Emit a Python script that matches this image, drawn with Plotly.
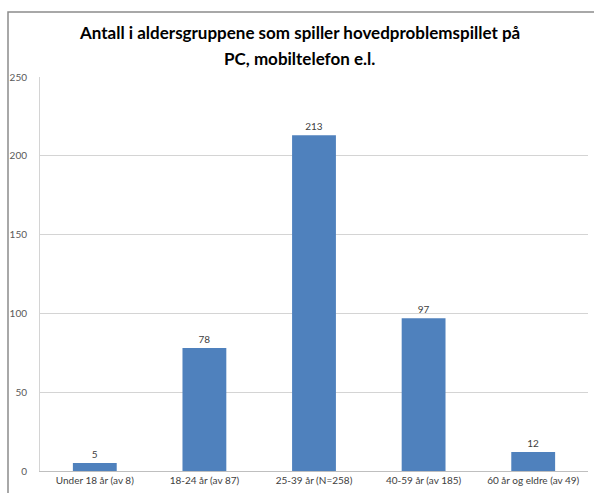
import plotly.graph_objects as go

categories = ["Under 18 år (av 8)", "18-24 år (av 87)", "25-39 år (N=258)",
              "40-59 år (av 185)", "60 år og eldre (av 49)"]
values = [5, 78, 213, 97, 12]
y_ticks = [0, 50, 100, 150, 200, 250]
title_lines = ["Antall i aldersgruppene som spiller hovedproblemspillet på",
               "PC, mobiltelefon e.l."]

W, H = 594, 493
L, R, T, B = 40, 6, 77, 22
ph = H - T - B
pw = W - L - R

def py(px):
    return 1 + (T - px) / ph

def pxx(px):
    return (px - L) / pw

fig = go.Figure(go.Bar(
    x=categories, y=values,
    marker=dict(color="#4F81BD", line=dict(color="#4F81BD", width=0)),
    text=[str(v) for v in values], textposition="outside",
    textfont=dict(family="Lato", size=10, color="#404040"),
    cliponaxis=False,
))

fig.update_layout(
    width=W, height=H,
    margin=dict(l=L, r=R, t=T, b=B, autoexpand=False),
    paper_bgcolor="white", plot_bgcolor="white",
    bargap=0.6,
    showlegend=False,
    font=dict(family="Lato"),
)
for line, ypx in zip(title_lines, [32, 59]):
    fig.add_annotation(text="<b>" + line + "</b>", xref="paper", yref="paper",
                       x=pxx(299), y=py(ypx), xanchor="center", yanchor="middle",
                       showarrow=False, font=dict(family="Lato", size=17, color="black"))

fig.update_yaxes(
    range=[0, 250], tickvals=y_ticks, showgrid=True, gridcolor="#D4D4D4", gridwidth=1,
    showline=True, linecolor="#D4D4D4", linewidth=1, zeroline=False, automargin=False,
    ticks="", tickfont=dict(size=10, color="#595959"), ticklabelstandoff=10,
)
fig.update_xaxes(
    showline=True, linecolor="#BFBFBF", linewidth=1, ticks="", automargin=False,
    tickfont=dict(size=10, color="#404040"),
)
fig.add_shape(type="rect", xref="paper", yref="paper",
              x0=pxx(8), x1=pxx(600), y0=py(500), y1=py(12),
              line=dict(color="#8C8C8C", width=1.5), layer="above")

fig.write_html("out.html", config={"displayModeBar": False},
               post_script="document.body.style.margin='0';document.body.style.overflow='hidden';")
